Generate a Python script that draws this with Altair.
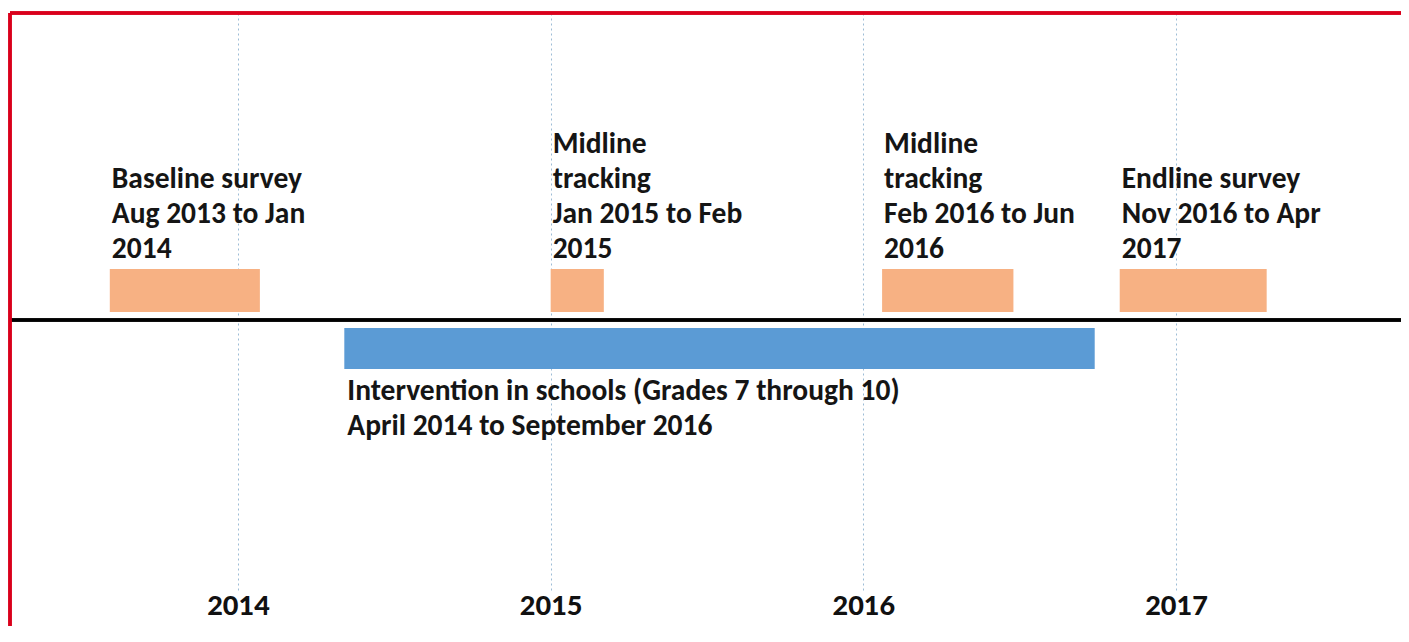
import altair as alt
import pandas as pd

# ---- data ----
survey_labels = [
    "Baseline survey\nAug 2013 to Jan\n2014",
    "Midline\ntracking\nJan 2015 to Feb\n2015",
    "Midline\ntracking\nFeb 2016 to Jun\n2016",
    "Endline survey\nNov 2016 to Apr\n2017",
]
survey_start = [2013.59, 2015.00, 2016.06, 2016.82]
survey_end = [2014.07, 2015.17, 2016.48, 2017.29]

intervention_labels = ["Intervention in schools (Grades 7 through 10)\nApril 2014 to September 2016"]
intervention_start = [2014.34]
intervention_end = [2016.74]

year_ticks = [2014, 2015, 2016, 2017]

surveys = pd.DataFrame({"label": survey_labels, "start": survey_start, "end": survey_end})
intervention = pd.DataFrame({"label": intervention_labels, "start": intervention_start, "end": intervention_end})

W, H = 1391, 577
FONT = "Carlito, Lato, sans-serif"
YEAR_FONT = "Liberation Sans Narrow, Lato, sans-serif"
LABEL_FS = 29.5
LINE_H = 35
LAST_BASELINE = 245  # last text line baseline, plot coords

xscale = alt.Scale(domain=[2013.2708, 2017.7196], nice=False, zero=False)
xaxis = alt.Axis(
    values=year_ticks, format="d", title=None, domain=False, ticks=False,
    grid=True, gridDash=[2, 3], gridColor="#9dbcd6", gridWidth=1,
    labelFont=YEAR_FONT, labelFontWeight=900, labelFontSize=27, labelColor="#111111",
    labelPadding=3,
)

survey_bars = alt.Chart(surveys).mark_rect(color="#F7B183").encode(
    x=alt.X("start:Q", scale=xscale, axis=xaxis),
    x2="end:Q",
    y=alt.value(256),
    y2=alt.value(299),
)

intervention_bar = alt.Chart(intervention).mark_rect(color="#5B9BD5").encode(
    x=alt.X("start:Q", scale=xscale),
    x2="end:Q",
    y=alt.value(315),
    y2=alt.value(356),
)

timeline = alt.Chart(surveys).mark_rule(color="#000000", strokeWidth=3).encode(
    x=alt.value(0), x2=alt.value(W), y=alt.value(307)
)

border_top = alt.Chart(surveys).mark_rule(color="#d9001b", strokeWidth=3).encode(
    x=alt.value(0), x2=alt.value(W), y=alt.value(0)
)
border_left = alt.Chart(surveys).mark_rule(color="#d9001b", strokeWidth=3).encode(
    x=alt.value(0), y=alt.value(0), y2=alt.value(H + 60)
)


def survey_text_layer(n_lines):
    return alt.Chart(surveys).transform_calculate(
        n="length(split(datum.label, '\\n'))"
    ).transform_filter(
        f"datum.n == {n_lines}"
    ).mark_text(
        align="left", baseline="alphabetic", lineBreak="\n", lineHeight=LINE_H,
        font=FONT, fontWeight="bold", fontSize=LABEL_FS, color="#151515", dx=2,
    ).encode(
        x=alt.X("start:Q", scale=xscale),
        y=alt.value(LAST_BASELINE - (n_lines - 1) * LINE_H),
        text="label:N",
    )


intervention_text = alt.Chart(intervention).mark_text(
    align="left", baseline="alphabetic", lineBreak="\n", lineHeight=LINE_H,
    font=FONT, fontWeight="bold", fontSize=LABEL_FS, color="#151515", dx=3,
).encode(
    x=alt.X("start:Q", scale=xscale),
    y=alt.value(387),
    text="label:N",
)

chart = alt.layer(
    survey_bars, intervention_bar, timeline, border_top, border_left,
    survey_text_layer(3), survey_text_layer(4), intervention_text,
).properties(
    width=W, height=H,
    padding={"left": 2, "top": 5, "right": 0, "bottom": 36},
    autosize=alt.AutoSizeParams(type="none"),
    background="white",
).configure_view(stroke=None)

chart.save("out.html", embed_options={"renderer": "svg", "actions": False})
